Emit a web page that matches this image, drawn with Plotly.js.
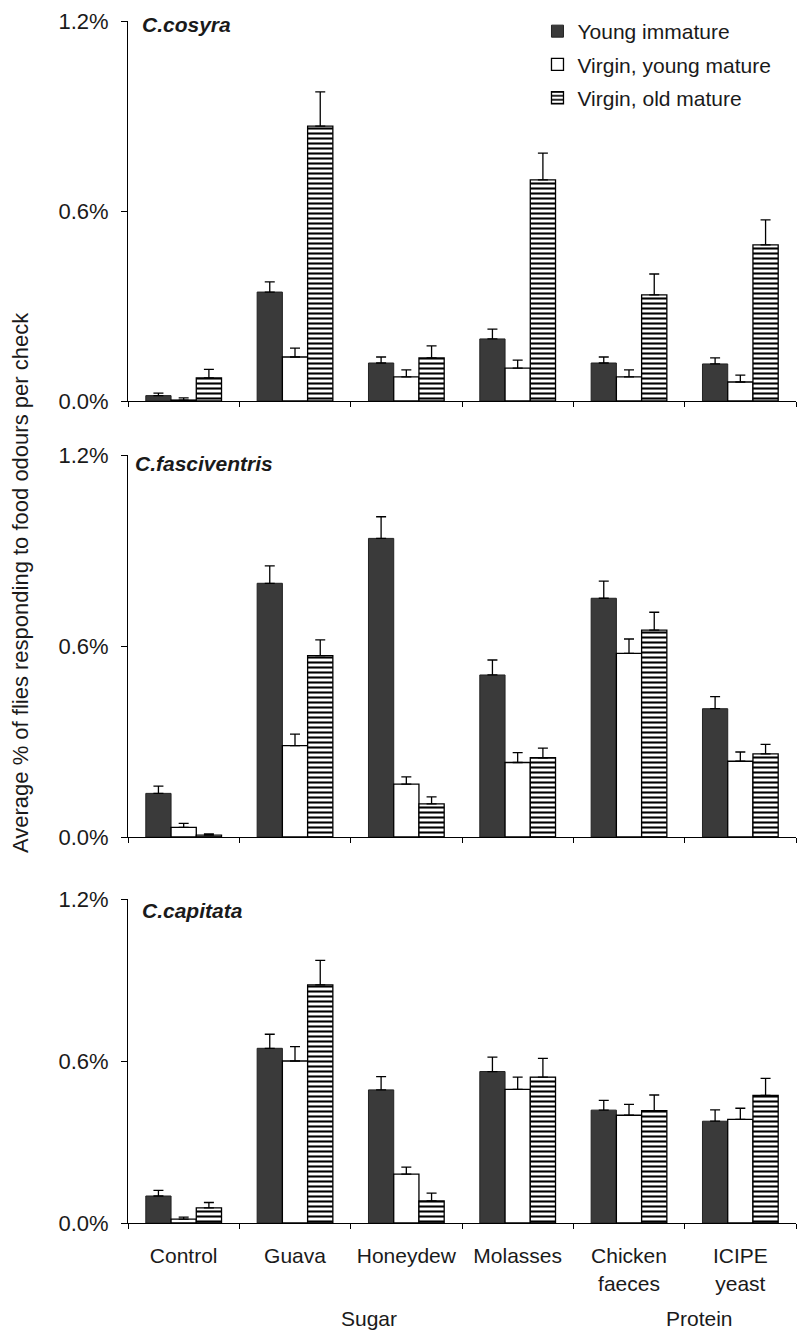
<!DOCTYPE html>
<html>
<head>
<meta charset="utf-8">
<script src="https://cdn.plot.ly/plotly-3.0.1.min.js"></script>
<style>html,body{margin:0;padding:0;background:#fff;}#chart{width:799px;height:1334px;}</style>
</head>
<body>
<div id="chart"></div>
<script>
// ---- Data (values in %) ----
const categories = ["Control", "Guava", "Honeydew", "Molasses", "Chicken<br>faeces", "ICIPE<br>yeast"];
const seriesNames = ["Young immature", "Virgin, young mature", "Virgin, old mature"];
const speciesLabels = ["C.cosyra", "C.fasciventris", "C.capitata"];
const groupLabels = ["Sugar", "Protein"];
const yTickVals = [0, 0.6, 1.2];
const yTickText = ["0.0%", "0.6%", "1.2%"];

const cosyraYoungImmature    = [0.017, 0.344, 0.120, 0.196, 0.120, 0.117];
const cosyraYoungImmatureErr = [0.008, 0.032, 0.019, 0.031, 0.019, 0.019];
const cosyraYoungMature      = [0.003, 0.139, 0.076, 0.104, 0.076, 0.060];
const cosyraYoungMatureErr   = [0.007, 0.028, 0.022, 0.025, 0.022, 0.022];
const cosyraOldMature        = [0.073, 0.868, 0.136, 0.698, 0.335, 0.493];
const cosyraOldMatureErr     = [0.027, 0.108, 0.038, 0.085, 0.066, 0.079];

const fascYoungImmature      = [0.137, 0.797, 0.938, 0.509, 0.750, 0.403];
const fascYoungImmatureErr   = [0.023, 0.055, 0.068, 0.047, 0.054, 0.038];
const fascYoungMature        = [0.030, 0.287, 0.166, 0.234, 0.577, 0.238];
const fascYoungMatureErr     = [0.013, 0.036, 0.023, 0.031, 0.045, 0.029];
const fascOldMature          = [0.006, 0.570, 0.104, 0.249, 0.650, 0.261];
const fascOldMatureErr       = [0.004, 0.049, 0.022, 0.030, 0.056, 0.030];

const capYoungImmature       = [0.100, 0.647, 0.493, 0.561, 0.418, 0.377];
const capYoungImmatureErr    = [0.021, 0.052, 0.049, 0.053, 0.036, 0.042];
const capYoungMature         = [0.014, 0.600, 0.181, 0.495, 0.399, 0.384];
const capYoungMatureErr      = [0.008, 0.053, 0.026, 0.045, 0.040, 0.041];
const capOldMature           = [0.056, 0.882, 0.082, 0.540, 0.416, 0.473];
const capOldMatureErr        = [0.020, 0.091, 0.029, 0.070, 0.058, 0.063];

const panels = [
  [[cosyraYoungImmature, cosyraYoungImmatureErr], [cosyraYoungMature, cosyraYoungMatureErr], [cosyraOldMature, cosyraOldMatureErr]],
  [[fascYoungImmature, fascYoungImmatureErr], [fascYoungMature, fascYoungMatureErr], [fascOldMature, fascOldMatureErr]],
  [[capYoungImmature, capYoungImmatureErr], [capYoungMature, capYoungMatureErr], [capOldMature, capOldMatureErr]]
];

// ---- Styles ----
const FONT = "Liberation Sans, Arial, Helvetica, sans-serif";
const TXT = "#1a1a1a";
const H = 1334;
const markers = [
  {color: "#3a3a3a", line: {color: "#222", width: 1}},
  {color: "#ffffff", line: {color: "#000", width: 1.3}},
  {color: "#ffffff", line: {color: "#000", width: 1.3},
   pattern: {shape: "-", fgcolor: "#000", bgcolor: "#fff", size: 5, solidity: 0.42}}
];

const traces = [];
panels.forEach((panel, p) => {
  const ax = p === 0 ? "" : String(p + 1);
  panel.forEach((s, k) => {
    traces.push({
      type: "bar",
      name: seriesNames[k],
      x: categories,
      y: s[0],
      xaxis: "x" + ax,
      yaxis: "y" + ax,
      marker: markers[k],
      showlegend: p === 0,
      legendgroup: "g" + k,
      error_y: {type: "data", symmetric: false, array: s[1], arrayminus: s[1].map(() => 0),
                color: "#000", thickness: 1.3, width: 5}
    });
  });
});

// pixel domains (top, bottom) for plot areas
const pxDomains = [[21, 401], [455, 837], [899, 1223]];
const layout = {
  width: 799, height: 1334,
  margin: {l: 128, r: 3, t: 0, b: 0},
  paper_bgcolor: "#fff", plot_bgcolor: "#fff",
  barmode: "group", bargap: 0.32, bargroupgap: 0,
  font: {family: FONT, size: 21, color: TXT},
  legend: {x: 0.613, y: 1 - 11 / H, xanchor: "left", yanchor: "top", tracegroupgap: 3,
           font: {family: FONT, size: 21, color: TXT}, bgcolor: "rgba(0,0,0,0)"},
  annotations: [],
  showlegend: true
};

pxDomains.forEach((d, p) => {
  const ax = p === 0 ? "" : String(p + 1);
  layout["xaxis" + ax] = {
    domain: [0, 1], anchor: "y" + ax, type: "category",
    showline: true, linecolor: "#000", linewidth: 1,
    ticks: "outside", tickson: "boundaries", ticklen: 5, tickcolor: "#000",
    showticklabels: p === 2, showgrid: false, zeroline: false,
    tickfont: {family: FONT, size: 21, color: TXT}, ticklabelstandoff: 14,
    range: [-0.5, 5.5], fixedrange: true
  };
  layout["yaxis" + ax] = {
    domain: [1 - d[1] / H, 1 - d[0] / H], anchor: "x" + ax,
    range: [0, 1.2], tickvals: yTickVals, ticktext: yTickText,
    showline: true, linecolor: "#000", linewidth: 1,
    ticks: "outside", ticklen: 6, tickcolor: "#000",
    showgrid: false, zeroline: false, ticklabelstandoff: 8,
    tickfont: {family: FONT, size: 22, color: TXT}
  };
});

const labelPos = [[140, 24], [133, 463], [140, 910]];
speciesLabels.forEach((s, i) => {
  layout.annotations.push({
    text: "<b><i>" + s + "</i></b>", xref: "paper", yref: "paper",
    x: (labelPos[i][0] - 128) / 668, y: 1 - labelPos[i][1] / H,
    xanchor: "left", yanchor: "middle", showarrow: false,
    font: {family: FONT, size: 21, color: TXT}
  });
});
const groupPos = [[369, 1318], [699, 1318]];
groupLabels.forEach((g, i) => {
  layout.annotations.push({
    text: g, xref: "paper", yref: "paper",
    x: (groupPos[i][0] - 128) / 668, y: 1 - groupPos[i][1] / H,
    xanchor: "center", yanchor: "middle", showarrow: false,
    font: {family: FONT, size: 21, color: TXT}
  });
});
layout.annotations.push({
  text: "Average % of flies responding to food odours per check",
  xref: "paper", yref: "paper", x: (20 - 128) / 668, y: 1 - 583 / H,
  xanchor: "center", yanchor: "middle", textangle: -90, showarrow: false,
  font: {family: FONT, size: 22, color: TXT}
});

Plotly.newPlot("chart", traces, layout, {displayModeBar: false, staticPlot: true});
</script>
</body>
</html>
